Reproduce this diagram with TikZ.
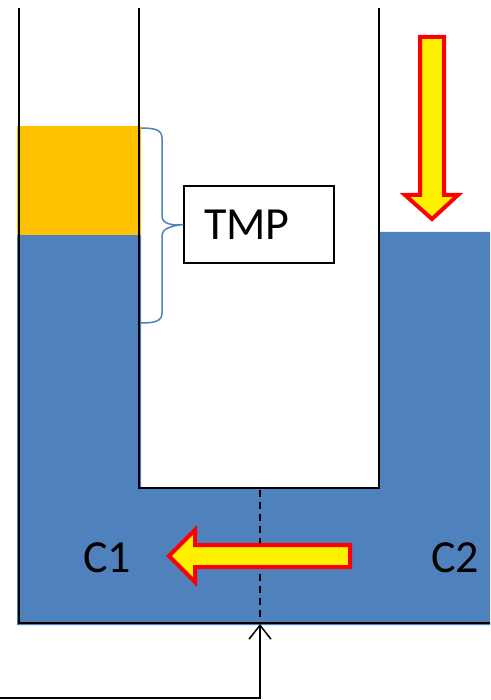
\documentclass[tikz,border=0pt]{standalone}
\usepackage{fontspec}
\setmainfont{Carlito}
\usetikzlibrary{arrows.meta, positioning}
\definecolor{liqBlue}{RGB}{79, 129, 189}
\definecolor{tmpOrange}{RGB}{255, 192, 0}
\begin{document}
\begin{tikzpicture}[
  x=1pt, y=-1pt,
  wall/.style={draw=black, line width=2.5pt},
  label/.style={font=\fontsize{46}{52}\selectfont, inner sep=0pt},
  tmpbox/.style={draw=black, line width=1.5pt, fill=white, minimum width=150pt,
                 minimum height=77pt, text width=110pt, inner xsep=20pt, align=left,
                 font=\fontsize{46}{52}\selectfont},
  flowarrow/.style={draw=red, line width=4pt, fill=yellow, line join=miter},
  arrow/.style={-{Straight Barb[length=14pt, width=22pt]}, line width=1.5pt}
]
\useasboundingbox (0,0) rectangle (490,700);
% liquid and layer
\fill[liqBlue] (17,235) -- (141,235) -- (141,488) -- (379,488) -- (379,232)
  -- (490,232) -- (490,625) -- (17,625) -- cycle;
\fill[tmpOrange] (17,126) rectangle (141,235);
% tube walls
\draw[wall] (19,8) -- (19,623) -- (490,623);
\draw[wall] (139,8) -- (139,488) -- (379,488) -- (379,8);
% membrane
\draw[dash pattern=on 7pt off 5pt, line width=1.5pt] (260,490) -- (260,623);
% flows
\draw[flowarrow] (169,556) -- (195,530) -- (195,545) -- (350,545) -- (350,567)
  -- (195,567) -- (195,582) -- cycle;
\draw[flowarrow] (420,37) -- (444,37) -- (444,195) -- (458,195) -- (432,219)
  -- (405,195) -- (420,195) -- cycle;
% labels
\node[label] (c1) at (107,558) {C1};
\node[label] (c2) at (455,558) {C2};
\node[tmpbox] (tmp) at (259,224.5) {TMP};
% brace
\draw[liqBlue, line width=1.5pt] (141,128) .. controls (155,128) and (162,130) .. (162,138)
  -- (162,216) .. controls (162,223) and (170,226) .. (tmp.west)
  .. controls (170,226) and (162,229) .. (162,236)
  -- (162,313) .. controls (162,321) and (155,323) .. (141,323);
% feedback
\coordinate (start) at (0,698);
\coordinate (memb) at (260,624);
\draw[arrow] (start) -| (memb);
\end{tikzpicture}
\end{document}
